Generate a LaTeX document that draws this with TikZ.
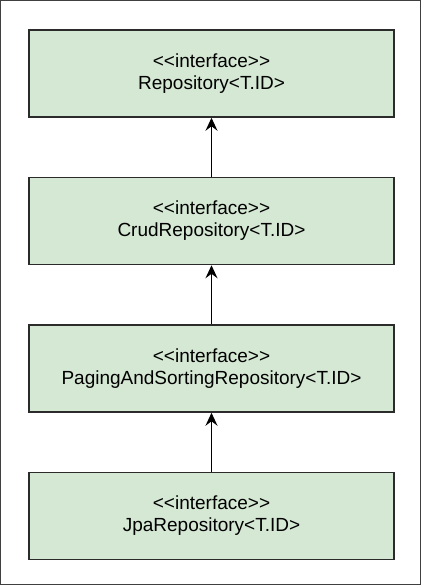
\documentclass[tikz,border=0pt]{standalone}
\usepackage{fontspec}
\setmainfont{Liberation Sans}
\usetikzlibrary{positioning,arrows.meta}

\definecolor{ifacefill}{HTML}{D5E8D4}
\definecolor{ifaceline}{HTML}{2B2B2B}
\newcommand{\ifacetag}{<\kern0pt<interface>\kern0pt>}

\tikzset{
  iface/.style={draw=ifaceline, fill=ifacefill, line width=1.5pt,
    minimum width=365pt, minimum height=87pt, inner sep=0pt,
    align=center, font=\fontsize{19pt}{22pt}\selectfont},
  extends/.style={-{Stealth[length=13pt,width=12pt,inset=4.5pt]}, line width=1.6pt}
}

\begin{document}
\begin{tikzpicture}[node distance=59pt]
    \useasboundingbox (0,0) rectangle (421pt,585pt);
    \draw[line width=1pt, draw=black!75] (0.5pt,0.5pt) rectangle (420.5pt,584.5pt);

    % Interfaces
    \node[iface] (repo) at (211.5pt,511.5pt) {\ifacetag\\Repository<T.ID>};
    \node[iface, below=of repo] (crud) {\ifacetag\\CrudRepository<T.ID>};
    \node[iface, below=of crud] (paging) {\ifacetag\\PagingAndSortingRepository<T.ID>};
    \node[iface, below=of paging] (jpa) {\ifacetag\\JpaRepository<T.ID>};

    % Vererbung
    \draw[extends] (crud) -- (repo);
    \draw[extends] (paging) -- (crud);
    \draw[extends] (jpa) -- (paging);

\end{tikzpicture}
\end{document}
